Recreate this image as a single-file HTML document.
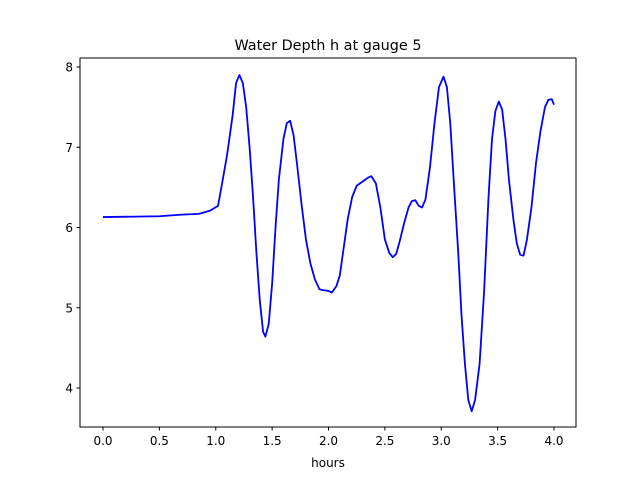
<!DOCTYPE html>
<html><head><meta charset="utf-8"><style>
body{margin:0;background:#fff;width:640px;height:480px;overflow:hidden}
text{font-family:"DejaVu Sans","Liberation Sans",sans-serif;fill:#000}
</style></head><body>
<svg width="640" height="480">
<rect width="640" height="480" fill="#fff"/>
<text x="328" y="50" text-anchor="middle" font-size="14.4">Water Depth h at gauge 5</text>
<g id="axes"></g>
<rect x="80" y="58" width="496" height="369" fill="none" stroke="#000" stroke-width="1"/>
<text x="328" y="467" text-anchor="middle" font-size="12">hours</text>
</svg>
<script>
const xs=[0,0.5,0.7,0.85,0.95,1.02,1.05,1.1,1.15,1.18,1.21,1.24,1.27,1.3,1.33,1.36,1.39,1.42,1.44,1.47,1.5,1.53,1.56,1.6,1.63,1.66,1.69,1.72,1.76,1.8,1.84,1.88,1.92,1.95,2.0,2.03,2.07,2.1,2.13,2.17,2.21,2.25,2.3,2.35,2.38,2.42,2.46,2.5,2.54,2.57,2.6,2.63,2.67,2.71,2.74,2.77,2.8,2.83,2.86,2.9,2.94,2.98,3.02,3.05,3.08,3.11,3.15,3.18,3.21,3.24,3.27,3.3,3.34,3.38,3.42,3.45,3.48,3.51,3.54,3.57,3.6,3.64,3.67,3.7,3.73,3.76,3.8,3.84,3.88,3.92,3.95,3.98,4.0];
const ys=[6.13,6.14,6.16,6.17,6.21,6.27,6.5,6.9,7.4,7.8,7.9,7.8,7.5,7.0,6.4,5.7,5.1,4.7,4.64,4.8,5.3,6.0,6.6,7.1,7.3,7.33,7.15,6.8,6.3,5.85,5.55,5.35,5.23,5.22,5.21,5.19,5.27,5.4,5.7,6.1,6.38,6.52,6.57,6.62,6.64,6.55,6.25,5.85,5.68,5.63,5.67,5.82,6.05,6.25,6.33,6.34,6.27,6.25,6.35,6.75,7.3,7.75,7.88,7.75,7.3,6.6,5.7,4.9,4.3,3.85,3.71,3.85,4.3,5.2,6.4,7.1,7.45,7.57,7.47,7.1,6.6,6.1,5.8,5.66,5.65,5.85,6.25,6.8,7.2,7.5,7.59,7.6,7.53];
const xTicks=[0,0.5,1,1.5,2,2.5,3,3.5,4];
const yTicks=[4,5,6,7,8];
const X=v=>103+v*112.75, Y=v=>67+(8-v)*80.25;
const NS="http://www.w3.org/2000/svg", g=document.getElementById('axes');
function mk(t,a){const e=document.createElementNS(NS,t);for(const k in a)e.setAttribute(k,a[k]);g.appendChild(e);return e;}
xTicks.forEach(v=>{
 const l=mk('line',{x1:X(v),x2:X(v),y1:427,y2:430.5,stroke:'#000'});
 
 
 const t=mk('text',{x:X(v),y:445,'text-anchor':'middle','font-size':'12'});t.textContent=v.toFixed(1);
 
 
});
yTicks.forEach(v=>{
 const l=mk('line',{x1:76.5,x2:80,y1:Y(v),y2:Y(v),stroke:'#000'});
 
 
 const t=mk('text',{x:73,y:Y(v)+4.5,'text-anchor':'end','font-size':'12'});t.textContent=v;
 
 
});
const p=mk('polyline',{points:xs.map((x,i)=>X(x)+','+Y(ys[i])).join(' '),fill:'none',stroke:'#0000ff','stroke-width':'1.8','stroke-linejoin':'round'});


</script>
</body></html>
